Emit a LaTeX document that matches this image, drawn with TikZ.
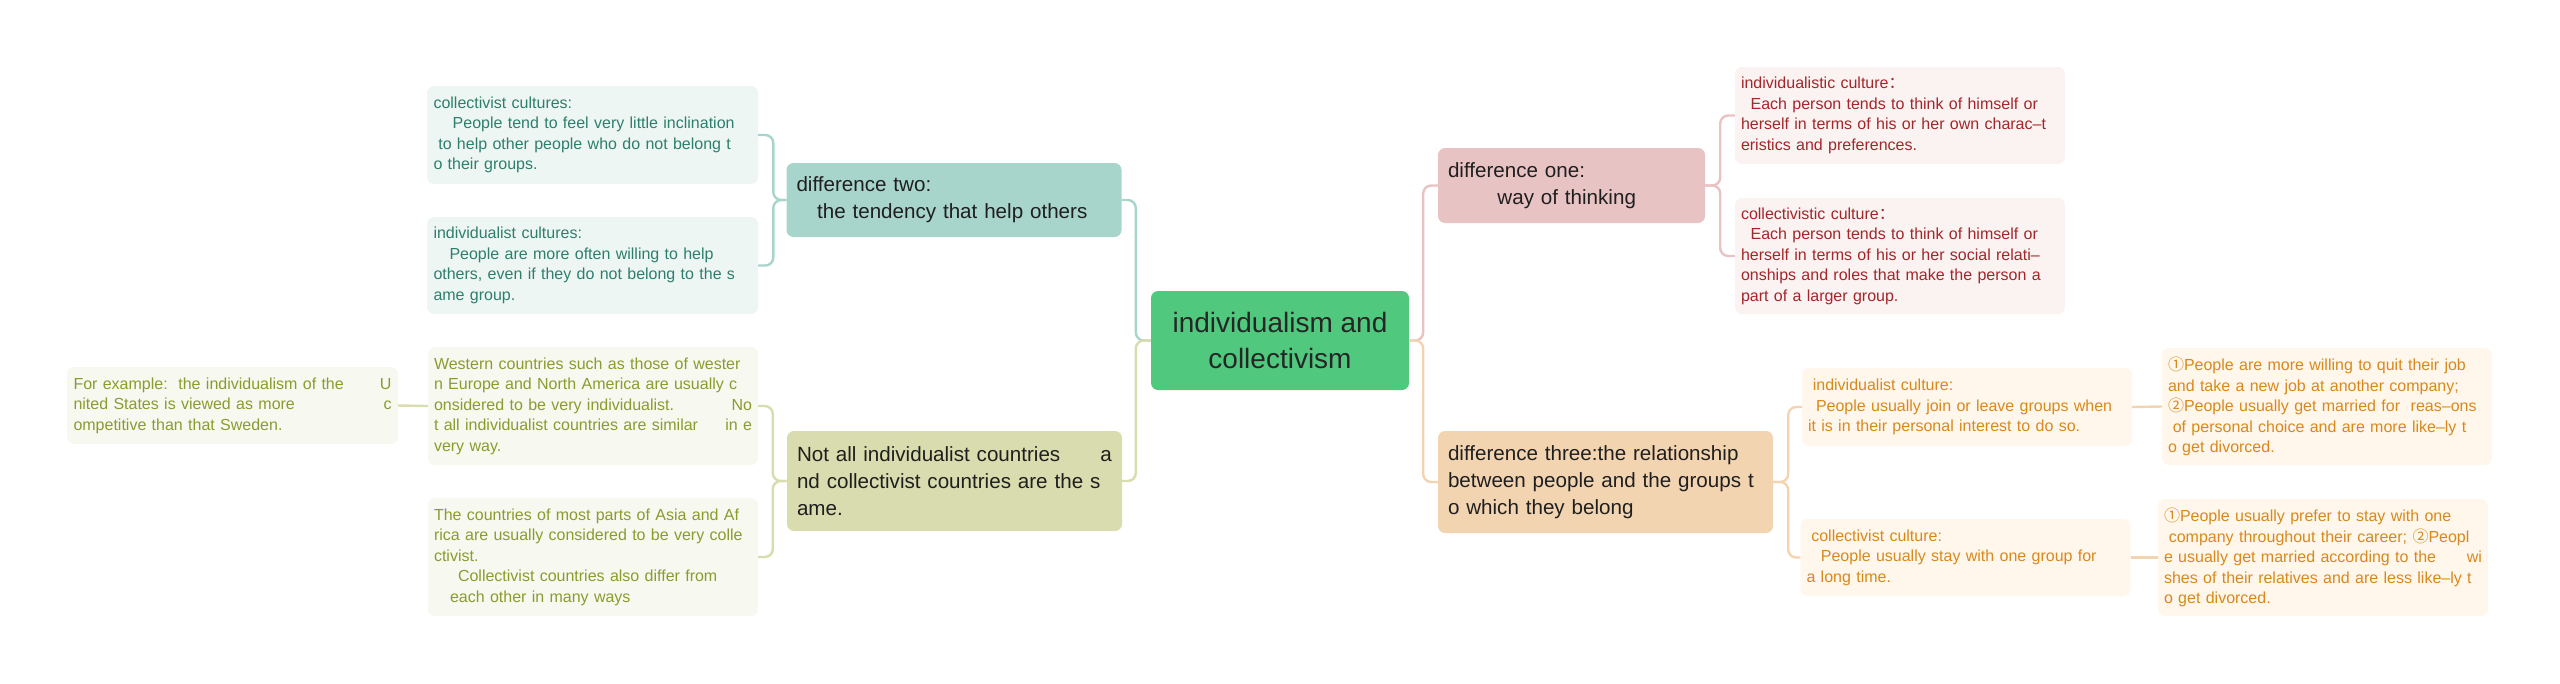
\documentclass[tikz,border=0pt]{standalone}
\usepackage{fontspec}
\setmainfont{Liberation Sans}
\newfontfamily\cjk{Noto Sans CJK SC}
\usepackage{tikz}
\usetikzlibrary{positioning,calc}
\usepackage{xcolor}
\definecolor{rootfill}{HTML}{50C97F}
\definecolor{tealfill}{HTML}{A8D5CB}
\definecolor{tealpale}{HTML}{EEF6F4}
\definecolor{tealtext}{HTML}{2D7F6C}
\definecolor{olivefill}{HTML}{D8DCAE}
\definecolor{olivepale}{HTML}{F7F8EF}
\definecolor{olivetext}{HTML}{8C9B2E}
\definecolor{pinkfill}{HTML}{E8C3C3}
\definecolor{pinkpale}{HTML}{FBF2F2}
\definecolor{pinktext}{HTML}{A3262A}
\definecolor{peachfill}{HTML}{F3D4B1}
\definecolor{peachpale}{HTML}{FFF6EC}
\definecolor{peachtext}{HTML}{D9891B}
\tikzset{
  rootbox/.style = {rectangle, rounded corners=7pt, fill=rootfill, text=black!85,
                    font=\fontsize{28}{36}\selectfont, align=center,
                    minimum width=258pt, minimum height=99pt},
  topic/.style   = {rectangle, rounded corners=7pt, fill=#1, text=black!88,
                    font=\fontsize{20.6}{27}\selectfont, align=left,
                    text width=315pt, inner xsep=10pt, minimum height=74pt},
  note/.style 2 args = {rectangle, rounded corners=7pt, fill=#1, text=#2,
                    font=\fontsize{16}{20.5}\selectfont, align=left,
                    text width=318pt, inner xsep=6pt, inner ysep=8pt},
  link/.style    = {draw=#1, line width=2.4pt, rounded corners=8pt},
}
\newcommand{\gap}{\hskip 0pt plus 1fill\relax}
\newcommand{\ind}[1]{\hspace*{#1em}}

\begin{document}
\begin{tikzpicture}[x=1pt,y=-1pt]
\useasboundingbox (0,0) rectangle (2560,683);
% ---- centre ----
\node[rootbox] (root) at (1280,340.5) {individualism and\\collectivism};
% ---- difference two (upper left) ----
\node[topic=tealfill] (dtwo) at (954,200) {difference two:\\\ind{1}the tendency that help others};
\node[note={tealpale}{tealtext}, minimum width=331pt, minimum height=98pt] (colc) at (592.5,135)
  {collectivist cultures:\\\ind{1.2}People tend to feel very little inclination\\\ind{0.3}to help other people who do not belong t\\o their groups.};
\node[note={tealpale}{tealtext}, minimum width=331pt, minimum height=97pt] (indc) at (592.5,265.5)
  {individualist cultures:\\\ind{1}People are more often willing to help\\others, even if they do not belong to the s\\ame group.};
% ---- not all the same (lower left) ----
\node[topic=olivefill, minimum height=100pt] (notall) at (954.5,481)
  {Not all individualist countries\gap a\\nd collectivist countries are the s\\ame.};
\node[note={olivepale}{olivetext}, minimum width=330pt, minimum height=118pt] (west) at (593,406)
  {Western countries such as those of wester\\n Europe and North America are usually c\\onsidered to be very individualist.\gap No\\t all individualist countries are similar\gap in e\\very way.};
\node[note={olivepale}{olivetext}, minimum width=330pt, minimum height=118pt] (asia) at (593,557)
  {The countries of most parts of Asia and Af\\rica are usually considered to be very colle\\ctivist.\\\ind{1.5}Collectivist countries also differ from\\\ind{1}each other in many ways};
\node[note={olivepale}{olivetext}, minimum width=331pt, minimum height=77pt] (forex) at (232.5,405.5)
  {For example:\ \ the individualism of the\gap U\\nited States is viewed as more\gap c\\ompetitive than that Sweden.};
% ---- difference one (upper right) ----
\node[topic=pinkfill, text width=247pt, minimum height=75pt] (done) at (1571.5,185.5)
  {difference one:\\\ind{2.4}way of thinking};
\node[note={pinkpale}{pinktext}, minimum width=330pt, minimum height=97pt] (indic) at (1900,115.5)
  {individualistic culture{\cjk ：}\\\ind{0.6}Each person tends to think of himself or\\herself in terms of his or her own charac–t\\eristics and preferences.};
\node[note={pinkpale}{pinktext}, minimum width=330pt, minimum height=116pt] (colic) at (1900,256)
  {collectivistic culture{\cjk ：}\\\ind{0.6}Each person tends to think of himself or\\herself in terms of his or her social relati–\\onships and roles that make the person a\\part of a larger group.};
% ---- difference three (lower right) ----
\node[topic=peachfill, minimum height=102pt] (dthree) at (1605.5,482)
  {difference three:the relationship\\between people and the groups t\\o which they belong};
\node[note={peachpale}{peachtext}, minimum width=330pt, minimum height=78pt] (indcu) at (1967,407)
  {\ind{0.3}individualist culture:\\\ind{0.5}People usually join or leave groups when\\it is in their personal interest to do so.};
\node[note={peachpale}{peachtext}, minimum width=327pt, minimum height=77pt] (colcu) at (1965.5,557.5)
  {\ind{0.3}collectivist culture:\\\ind{0.9}People usually stay with one group for\\a long time.};
\node[note={peachpale}{peachtext}, minimum width=330pt, minimum height=117pt] (leafa) at (2327,406.5)
  {{\cjk ①}People are more willing to quit their job\\and take a new job at another company;\\{\cjk ②}People usually get married for\ \ reas–ons\\\ind{0.3}of personal choice and are more like–ly t\\o get divorced.};
\node[note={peachpale}{peachtext}, minimum width=330pt, minimum height=117pt] (leafb) at (2323,557.5)
  {{\cjk ①}People usually prefer to stay with one\\\ind{0.3}company throughout their career; {\cjk ②}Peopl\\e usually get married according to the\gap wi\\shes of their relatives and are less like–ly t\\o get divorced.};
% ---- connectors ----
\draw[link=tealfill] (root.west) -- ++(-15,0) |- (dtwo.east);
\draw[link=olivefill] (root.west) -- ++(-15,0) |- (notall.east);
\draw[link=pinkfill] (root.east) -- ++(14,0) |- (done.west);
\draw[link=peachfill] (root.east) -- ++(14,0) |- (dthree.west);
\draw[link=tealfill] (dtwo.west) -- ++(-13,0) |- (colc.east);
\draw[link=tealfill] (dtwo.west) -- ++(-13,0) |- (indc.east);
\draw[link=olivefill] (notall.west) -- ++(-14,0) |- (west.east);
\draw[link=olivefill] (notall.west) -- ++(-14,0) |- (asia.east);
\draw[link=olivefill] (west.west) -- (forex.east);
\draw[link=pinkfill] (done.east) -- ++(15,0) |- (indic.west);
\draw[link=pinkfill] (done.east) -- ++(15,0) |- (colic.west);
\draw[link=peachfill] (dthree.east) -- ++(15,0) |- (indcu.west);
\draw[link=peachfill] (dthree.east) -- ++(15,0) |- (colcu.west);
\draw[link=peachfill] (indcu.east) -- (leafa.west);
\draw[link=peachfill] (colcu.east) -- (leafb.west);
\end{tikzpicture}
\end{document}
